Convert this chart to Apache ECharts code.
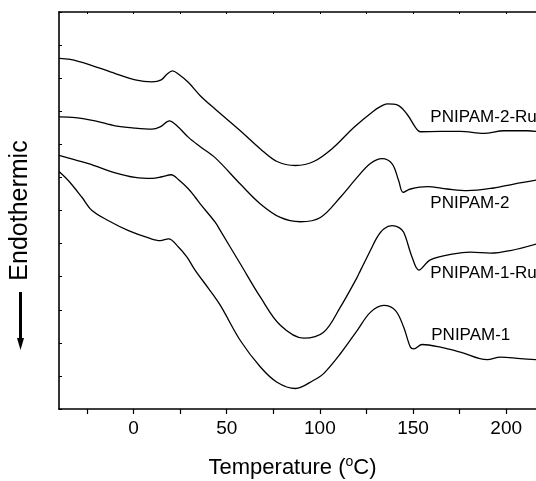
<!DOCTYPE html>
<html>
<head>
<meta charset="utf-8">
<script src="https://cdn.jsdelivr.net/npm/echarts@6/dist/echarts.min.js"></script>
<style>
  html, body { margin: 0; padding: 0; background: #fff; }
  #dsc { width: 536px; height: 481px; }
</style>
</head>
<body>
<div id="dsc"></div>
<script>
// temperatures (°C) and heat-flow readings (arbitrary units, offset curves)
var ru2Temp = [-40, -34.0, -24.2, -9.8, 0.9, 9.9, 14.9, 17.9, 20.9, 24.2, 29.5, 35.8, 43.9, 57.3, 68.1, 77.0, 86.9, 96.7, 107.4, 118.2, 128.9, 133.4, 136.1, 141.5, 146.8, 151.3, 153.9, 164.7, 175.4, 188.0, 198.7, 211.3, 216.3];
var ru2Heat = [10.60, 10.57, 10.42, 10.14, 9.95, 9.89, 9.95, 10.12, 10.22, 10.12, 9.87, 9.47, 9.06, 8.41, 7.86, 7.48, 7.36, 7.48, 7.91, 8.51, 9.01, 9.17, 9.22, 9.19, 8.91, 8.51, 8.38, 8.39, 8.39, 8.33, 8.41, 8.41, 8.39];

var p2Temp = [-40, -31.3, -20.6, -9.8, 0.9, 9.9, 14.3, 19.3, 23.3, 29.5, 35.8, 43.9, 57.3, 68.1, 78.8, 89.5, 100.3, 111.0, 120.0, 127.1, 133.4, 138.8, 142.3, 144.7, 148.6, 157.6, 168.3, 179.1, 193.3, 204.1, 216.3];
var p2Heat = [8.83, 8.81, 8.71, 8.56, 8.49, 8.46, 8.53, 8.71, 8.56, 8.21, 7.93, 7.59, 6.80, 6.20, 5.79, 5.66, 5.79, 6.40, 7.00, 7.42, 7.57, 7.41, 6.90, 6.55, 6.65, 6.72, 6.65, 6.60, 6.68, 6.80, 6.92];

var ru1Temp = [-40, -31.3, -24.2, -20.6, -9.8, 0.9, 9.9, 15.3, 20.2, 24.2, 29.5, 33.1, 35.8, 43.9, 46.6, 57.3, 68.1, 78.8, 91.3, 102.0, 111.0, 120.0, 121.8, 127.1, 130.7, 134.3, 138.8, 142.3, 145.0, 149.5, 153.1, 159.3, 171.9, 180.8, 191.6, 202.3, 216.3];
var ru1Heat = [7.67, 7.53, 7.42, 7.35, 7.14, 7.00, 6.97, 7.02, 7.08, 6.93, 6.65, 6.40, 6.20, 5.64, 5.39, 4.39, 3.38, 2.53, 2.14, 2.32, 3.08, 3.98, 4.19, 4.79, 5.19, 5.44, 5.54, 5.49, 5.34, 4.59, 4.20, 4.51, 4.69, 4.74, 4.71, 4.79, 4.99];

var p1Temp = [-40, -34.9, -27.7, -22.3, -13.4, -2.7, 8.1, 14.3, 18.8, 24.2, 28.7, 33.1, 40.3, 46.6, 57.3, 68.1, 77.0, 86.9, 96.7, 102.0, 111.0, 120.0, 127.1, 134.3, 140.5, 145.0, 148.6, 150.4, 154.9, 164.7, 175.4, 189.8, 196.9, 207.7, 216.3];
var p1Heat = [7.18, 6.90, 6.40, 6.00, 5.69, 5.39, 5.17, 5.09, 5.14, 4.89, 4.59, 4.19, 3.64, 3.13, 2.07, 1.27, 0.81, 0.62, 0.87, 1.07, 1.67, 2.37, 2.92, 3.13, 2.98, 2.47, 1.87, 1.82, 1.95, 1.87, 1.72, 1.49, 1.57, 1.52, 1.49];

var seriesNames = ['PNIPAM-2-Ru', 'PNIPAM-2', 'PNIPAM-1-Ru', 'PNIPAM-1'];
var labelTemp = [159.3, 159.3, 159.3, 159.8];
var labelHeat = [8.83, 6.21, 4.09, 2.22];

var majorTicks = [0, 50, 100, 150, 200];
var allTicks = [-25, 0, 25, 50, 75, 100, 125, 150, 175, 200];

var font = '"Liberation Sans", Arial, sans-serif';

function zip(xs, ys) {
  var out = [];
  for (var i = 0; i < xs.length; i++) {
    out.push([xs[i], ys[i]]);
  }
  return out;
}

function lineSeries(name, xs, ys) {
  return {
    name: name,
    type: 'line',
    data: zip(xs, ys),
    smooth: 0.35,
    showSymbol: false,
    silent: true,
    lineStyle: { color: '#000', width: 1.3 }
  };
}

var chart = echarts.init(document.getElementById('dsc'), null, { renderer: 'canvas' });

var option = {
  animation: false,
  backgroundColor: '#fff',
  textStyle: { fontFamily: font },
  grid: { left: 59, top: 12, right: 0, bottom: 72, containLabel: false, outerBoundsMode: 'none' },
  xAxis: [
    {
      type: 'value',
      min: -40,
      max: 216,
      position: 'bottom',
      name: '{t|Temperature (}{sup|o}{t|C)}',
      nameLocation: 'middle',
      nameGap: 46,
      nameTextStyle: {
        color: '#000',
        fontSize: 22,
        fontFamily: font,
        padding: [0, 10, 0, 0],
        rich: {
          t: { fontSize: 22, fontFamily: font, color: '#000' },
          sup: { fontSize: 14, verticalAlign: 'top', padding: [0, 0, 12, 0], fontFamily: font, color: '#000' }
        }
      },
      axisLine: { onZero: false, lineStyle: { color: '#000', width: 1.6 } },
      axisTick: { inside: false, length: 5, customValues: allTicks, lineStyle: { color: '#000', width: 1.2 } },
      axisLabel: { customValues: majorTicks, color: '#000', fontSize: 19, fontFamily: font, margin: 10 },
      splitLine: { show: false }
    },
    {
      type: 'value',
      min: -40,
      max: 216,
      position: 'top',
      axisLine: { onZero: false, lineStyle: { color: '#000', width: 1.6 } },
      axisTick: { inside: true, length: 2, customValues: allTicks, lineStyle: { color: '#000', width: 1 } },
      axisLabel: { show: false },
      splitLine: { show: false }
    }
  ],
  yAxis: {
    type: 'value',
    min: 0,
    max: 12,
    interval: 1,
    position: 'left',
    name: 'Endothermic',
    nameLocation: 'middle',
    nameGap: 26,
    nameTextStyle: { color: '#000', fontSize: 25, fontFamily: font },
    axisLine: { show: true, onZero: false, lineStyle: { color: '#000', width: 1.6 } },
    axisTick: { inside: true, length: 3, lineStyle: { color: '#000', width: 1 } },
    axisLabel: { show: false },
    splitLine: { show: false }
  },
  series: [
    lineSeries(seriesNames[0], ru2Temp, ru2Heat),
    lineSeries(seriesNames[1], p2Temp, p2Heat),
    lineSeries(seriesNames[2], ru1Temp, ru1Heat),
    lineSeries(seriesNames[3], p1Temp, p1Heat)
  ]
};

chart.setOption(option);

// curve labels placed in data space, plus the downward arrow under the axis name
var graphics = [];
for (var i = 0; i < seriesNames.length; i++) {
  var pos = chart.convertToPixel({ xAxisIndex: 0, yAxisIndex: 0 }, [labelTemp[i], labelHeat[i]]);
  graphics.push({
    type: 'text',
    x: pos[0],
    y: pos[1],
    style: { text: seriesNames[i], fill: '#000', font: '17px ' + font, textAlign: 'left', textVerticalAlign: 'middle' }
  });
}
graphics.push({
  type: 'line',
  shape: { x1: 20.5, y1: 292, x2: 20.5, y2: 342 },
  style: { stroke: '#000', lineWidth: 3 }
});
graphics.push({
  type: 'polygon',
  shape: { points: [[17, 338], [24, 338], [20.5, 350]] },
  style: { fill: '#000' }
});

chart.setOption({ graphic: graphics });
</script>
</body>
</html>
